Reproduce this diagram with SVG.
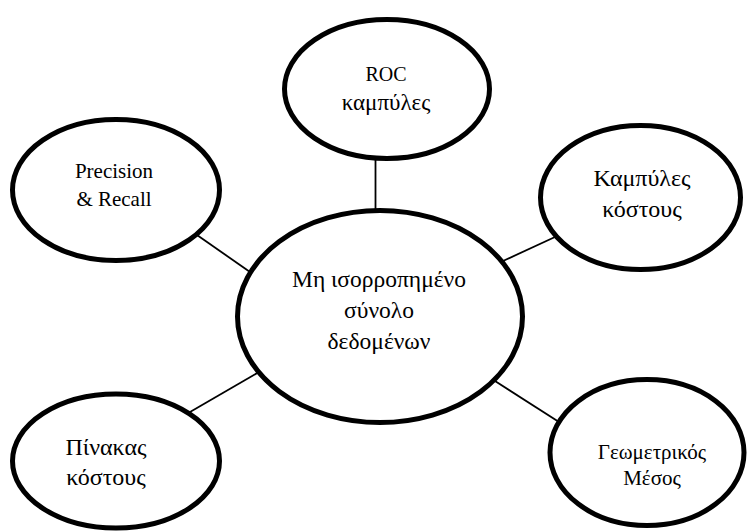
<svg xmlns="http://www.w3.org/2000/svg" width="748" height="532" viewBox="0 0 748 532">
<style>
.node ellipse{fill:#fff;stroke:#000;stroke-width:5}
.conn line{stroke:#000;stroke-width:1.8}
.lbl{font-family:'Liberation Serif','Times New Roman','DejaVu Serif',serif;font-size:21px;fill:#000;text-anchor:middle}
.gr{font-size:23.5px}
.sm{font-size:21px}
</style>
<rect width="748" height="532" fill="#fff"/>
<g id="connectors" class="conn">
<line x1="375.5" y1="158" x2="375.5" y2="212"/>
<line x1="197" y1="235" x2="250" y2="272"/>
<line x1="555" y1="237" x2="503" y2="261"/>
<line x1="190" y1="412" x2="259" y2="372"/>
<line x1="495" y1="381" x2="559" y2="422"/>
</g>
<g id="node-roc" class="node">
<ellipse cx="387" cy="89" rx="102.5" ry="69.5"/>
<text class="lbl" x="386" y="81" style="font-size:20px">ROC</text>
<text class="lbl gr" x="386" y="110" style="font-size:23px">καμπύλες</text>
</g>
<g id="node-precision" class="node">
<ellipse cx="116" cy="190" rx="103.5" ry="70.5"/>
<text class="lbl" x="114" y="178">Precision</text>
<text class="lbl" x="114" y="206">&amp; Recall</text>
</g>
<g id="node-cost-curves" class="node">
<ellipse cx="640.5" cy="197.5" rx="100" ry="72"/>
<text class="lbl gr" x="642" y="186" style="font-size:24px">Καμπύλες</text>
<text class="lbl gr" x="642" y="217" style="font-size:24px">κόστους</text>
</g>
<g id="node-center" class="node">
<ellipse cx="380" cy="316.5" rx="142.5" ry="106"/>
<text class="lbl gr" x="379" y="287">Μη ισορροπημένο</text>
<text class="lbl gr" x="379" y="318">σύνολο</text>
<text class="lbl gr" x="379" y="349">δεδομένων</text>
</g>
<g id="node-cost-matrix" class="node">
<ellipse cx="116" cy="461" rx="103.5" ry="67"/>
<text class="lbl gr" x="106" y="455" style="font-size:24px">Πίνακας</text>
<text class="lbl gr" x="106" y="485" style="font-size:24px">κόστους</text>
</g>
<g id="node-gmean" class="node">
<ellipse cx="647" cy="452.5" rx="97" ry="73"/>
<text class="lbl sm" x="652" y="459">Γεωμετρικός</text>
<text class="lbl sm" x="652" y="485">Μέσος</text>
</g>
</svg>
